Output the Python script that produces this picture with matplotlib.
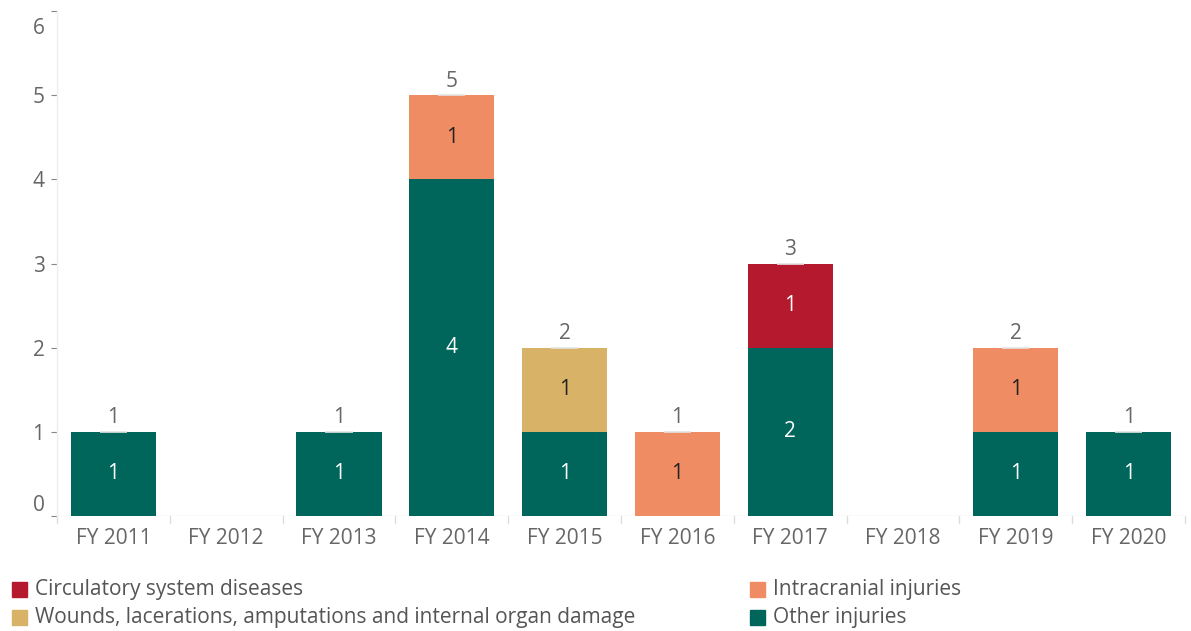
import matplotlib
matplotlib.use("Agg")
import matplotlib.pyplot as plt
from matplotlib.patches import Rectangle
from matplotlib.transforms import ScaledTranslation
import numpy as np

plt.rcParams['font.family'] = ['Open Sans', 'DejaVu Sans']

years = ["FY 2011", "FY 2012", "FY 2013", "FY 2014", "FY 2015",
         "FY 2016", "FY 2017", "FY 2018", "FY 2019", "FY 2020"]
other_injuries = [1, 0, 1, 4, 1, 0, 2, 0, 1, 1]
wounds = [0, 0, 0, 0, 1, 0, 0, 0, 0, 0]
intracranial = [0, 0, 0, 1, 0, 1, 0, 0, 1, 0]
circulatory = [0, 0, 0, 0, 0, 0, 1, 0, 0, 0]

series = [
    ("Other injuries", other_injuries, "#00665C", "white"),
    ("Wounds, lacerations, amputations and internal organ damage", wounds, "#D8B266", "#222222"),
    ("Intracranial injuries", intracranial, "#F08C63", "#222222"),
    ("Circulatory system diseases", circulatory, "#B5192D", "white"),
]

W, H = 1191, 631
fig = plt.figure(figsize=(W / 100, H / 100), dpi=100)
ax = fig.add_axes([57 / W, 1 - 516 / H, (1185 - 57) / W, (516 - 11) / H])

x = np.arange(len(years))
bw = 0.755
bottom = np.zeros(len(years))
for name, vals, color, tcolor in series:
    vals = np.array(vals, dtype=float)
    ax.bar(x, vals, bw, bottom=bottom, color=color, linewidth=0, zorder=2)
    for xi, v, b in zip(x, vals, bottom):
        if v > 0:
            ax.text(xi, b + v / 2, f"{int(v)}", ha="center", va="center",
                    color=tcolor, fontsize=15, zorder=3)
    bottom += vals

totals = bottom
for xi, t in zip(x, totals):
    if t > 0:
        ax.text(xi, t + 0.04, f"{int(t)}", ha="center", va="bottom",
                color="#666666", fontsize=15, zorder=3)
        ax.plot([xi - 0.12, xi + 0.12], [t, t], color="#e4e4e4", lw=1.2,
                zorder=3, solid_capstyle="butt")

ax.set_xlim(-0.5, len(years) - 0.5)
ax.set_ylim(0, 6.0)
ax.set_yticks(range(0, 7))
ax.set_yticklabels([str(i) for i in range(0, 7)], fontsize=15, color="#666666")
ax.tick_params(axis="y", length=4, width=0.8, color="#888888", pad=5)
# edge labels sit inside the axis range
ylabels = ax.get_yticklabels()
ylabels[0].set_va("bottom")
ylabels[-1].set_va("top")
ylabels[-1].set_transform(ylabels[-1].get_transform()
                          + ScaledTranslation(0, -7 / 100, fig.dpi_scale_trans))
ax.set_xticks(x)
ax.set_xticklabels(years, fontsize=15, color="#666666")
ax.tick_params(axis="x", length=0, pad=9)

for s in ["top", "right", "bottom"]:
    ax.spines[s].set_visible(False)
ax.spines["left"].set_color("#eeeeee")
ax.spines["left"].set_linewidth(1)

# dotted zero baseline
ax.axhline(0, color="#cccccc", lw=1, ls=(0, (1, 1)), zorder=1)

# category separators below the axis
for b in np.arange(-0.5, len(years) + 0.5, 1.0):
    ax.plot([b, b], [0, -0.08], color="#dddddd", lw=1, clip_on=False,
            transform=ax.transData)

# legend drawn in figure pixel coordinates
legend_items = [
    ("Circulatory system diseases", "#B5192D", 12, 582),
    ("Wounds, lacerations, amputations and internal organ damage", "#D8B266", 12, 610),
    ("Intracranial injuries", "#F08C63", 750, 582),
    ("Other injuries", "#00665C", 750, 610),
]
for label, color, px, py in legend_items:
    fig.add_artist(Rectangle((px / W, 1 - (py + 15) / H), 15 / W, 15 / H,
                             transform=fig.transFigure, color=color))
    fig.text((px + 23) / W, 1 - (py + 8) / H, label, ha="left", va="center",
             fontsize=15, color="#555555")

fig.savefig("out.png", dpi=100)
